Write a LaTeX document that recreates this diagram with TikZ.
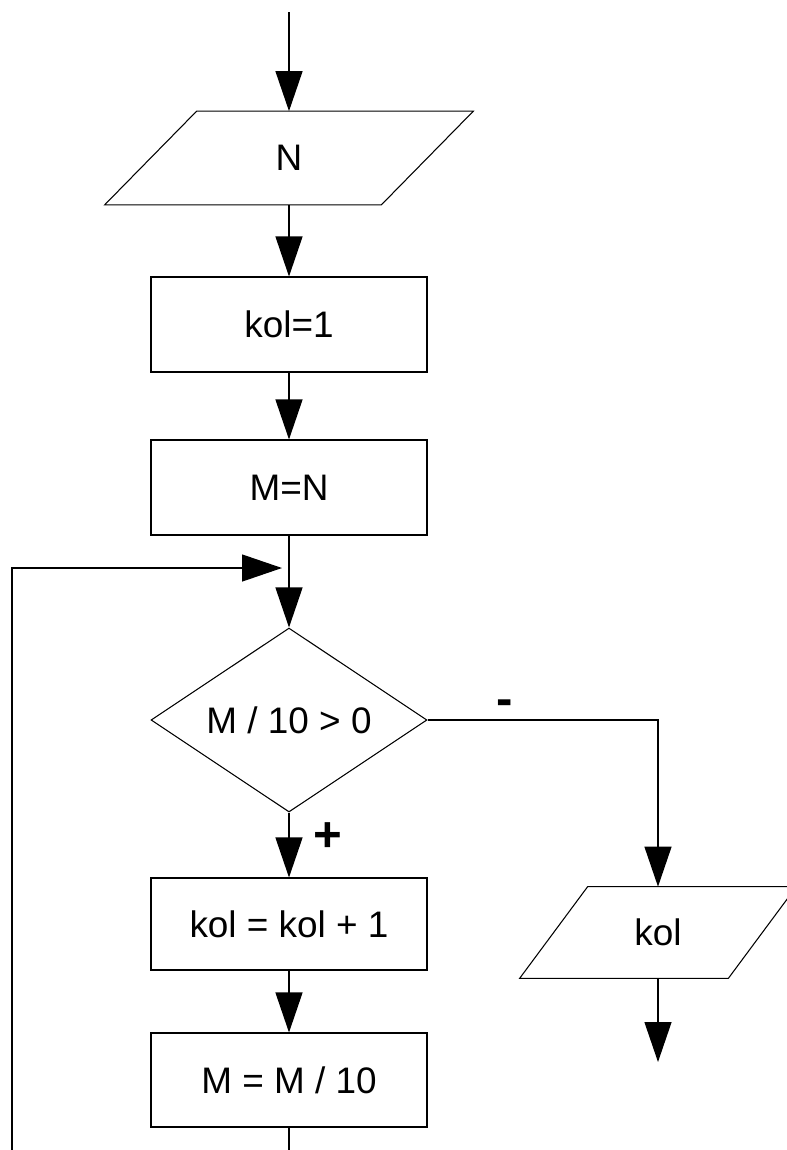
\documentclass[tikz,border=0pt]{standalone}
\usepackage{fontspec}
\setmainfont{Liberation Sans}
\usetikzlibrary{shapes.geometric, arrows.meta, positioning}

\begin{document}
\begin{tikzpicture}[
    font=\fontsize{21}{25}\selectfont,
    block/.style={draw, line width=0.6pt, rectangle, minimum width=5.52cm, minimum height=1.9cm, inner sep=0pt},
    io/.style={rectangle, minimum width=5.52cm, minimum height=1.86cm, inner sep=0pt},
    outline/.style={line width=0.6pt},
    decision/.style={draw, line width=0.6pt, diamond, aspect=1.5, minimum width=5.52cm, minimum height=3.68cm, inner sep=0pt},
    sign/.style={font=\fontsize{28}{30}\selectfont\bfseries, inner sep=0pt},
    arr/.style={line width=0.7pt, -{Triangle[length=0.8cm, width=0.54cm]}}
]
    \useasboundingbox (0,0) rectangle (15.74,-23);

    \coordinate (start) at (5.78,-0.24);
    \node[io] (inN) at (5.78,-3.16) {N};
    \node[block] (kol1) at (5.78,-6.49) {kol=1};
    \node[block] (mn) at (5.78,-9.75) {M=N};
    \coordinate (join) at (5.78,-11.36);
    \node[decision] (dec) at (5.78,-14.4) {M / 10 > 0};
    \node[block, minimum height=1.84cm] (inc) at (5.78,-18.48) {kol = kol + 1};
    \node[block, minimum height=1.88cm] (mdiv) at (5.78,-21.6) {M = M / 10};
    \coordinate (loopend) at (5.78,-23.4);
    \coordinate (loopleft) at (0.24,-23.4);

    \node[io, minimum width=4.16cm, minimum height=1.82cm] (outkol) at (13.16,-18.65) {kol};
    \coordinate (exit) at (13.16,-21.24);

    \node[sign] (minus) at (10.1,-14.15) {-};
    \node[sign] (plus) at (6.56,-16.74) {+};

    % parallelograms
    \draw[outline] ([xshift=0.92cm]inN.north west) -- ([xshift=0.92cm]inN.north east)
        -- ([xshift=-0.92cm]inN.south east) -- ([xshift=-0.92cm]inN.south west) -- cycle;
    \draw[outline] ([xshift=0.68cm]outkol.north west) -- ([xshift=0.68cm]outkol.north east)
        -- ([xshift=-0.68cm]outkol.south east) -- ([xshift=-0.68cm]outkol.south west) -- cycle;

    \draw[arr] (start) -- (inN);
    \draw[arr] (inN) -- (kol1);
    \draw[arr] (kol1) -- (mn);
    \draw[arr] (mn) -- (dec);
    \draw[arr] (dec) -- (inc);
    \draw[arr] (inc) -- (mdiv);
    \draw[arr, shorten >=0.14cm] (mdiv) -- (loopend) -- (loopleft) |- (join);
    \draw[arr] (dec) -| (outkol);
    \draw[arr] (outkol) -- (exit);
\end{tikzpicture}
\end{document}
